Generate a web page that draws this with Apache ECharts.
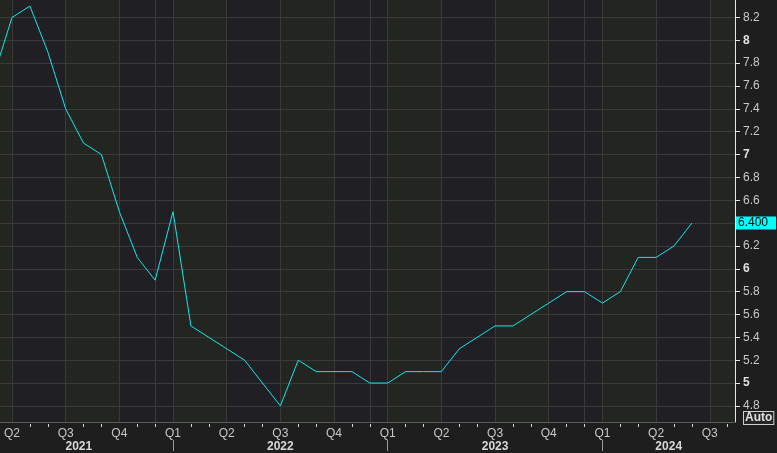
<!DOCTYPE html>
<html>
<head>
<meta charset="utf-8">
<script src="https://cdn.jsdelivr.net/npm/echarts@6/dist/echarts.min.js"></script>
<style>
html,body{margin:0;padding:0;background:#1e1e1e;}
#chart{width:777px;height:453px;}
</style>
</head>
<body>
<div id="chart"></div>
<script>
// ---- data ----
const months = [
  '2021-03','2021-04','2021-05','2021-06','2021-07','2021-08','2021-09','2021-10','2021-11','2021-12',
  '2022-01','2022-02','2022-03','2022-04','2022-05','2022-06','2022-07','2022-08','2022-09','2022-10','2022-11','2022-12',
  '2023-01','2023-02','2023-03','2023-04','2023-05','2023-06','2023-07','2023-08','2023-09','2023-10','2023-11','2023-12',
  '2024-01','2024-02','2024-03','2024-04','2024-05','2024-06'
];
const values = [
  7.7, 8.2, 8.3, 7.9, 7.4, 7.1, 7.0, 6.5, 6.1, 5.9,
  6.5, 5.5, 5.4, 5.3, 5.2, 5.0, 4.8, 5.2, 5.1, 5.1, 5.1, 5.0,
  5.0, 5.1, 5.1, 5.1, 5.3, 5.4, 5.5, 5.5, 5.6, 5.7, 5.8, 5.8,
  5.7, 5.8, 6.1, 6.1, 6.2, 6.4
];
const quarterNames = ['Q1','Q2','Q3','Q4'];
const years = ['2021','2022','2023','2024'];
const yTicks = [4.8,5.0,5.2,5.4,5.6,5.8,6.0,6.2,6.4,6.6,6.8,7.0,7.2,7.4,7.6,7.8,8.0,8.2,8.4];

// ---- helpers ----
const BASE_YEAR = 2021;
function monthIndex(s){ const p = s.split('-'); return (parseInt(p[0]) - BASE_YEAR) * 12 + (parseInt(p[1]) - 1); }
const X_MIN = 2.33, X_MAX = 43.41;
const Y_MIN = 4.659, Y_MAX = 8.353;

const quarterStarts = [];
for (let m = 0; m <= 45; m += 3) quarterStarts.push(m);
const labelQuarters = quarterStarts.filter(m => m >= X_MIN && m <= X_MAX);
const monthTicks = [];
for (let m = 0; m <= 45; m++) if (m % 3 !== 0 && m >= X_MIN && m <= X_MAX) monthTicks.push(m);
const yearStarts = years.map((y, i) => i * 12);
const yearDividers = yearStarts.filter(m => m > X_MIN && m < X_MAX);
const gridMonths = labelQuarters.concat(yearDividers.map(m => m - 1)).sort((a, b) => a - b);
// year label centers over the visible part of each year
const yearCenters = years.map((y, i) => {
  const a = Math.max(i * 12, X_MIN - 0.86), b = Math.min((i + 1) * 12, X_MAX);
  return (a + b) / 2;
});

const lineData = months.map((m, i) => [monthIndex(m), values[i]]);
const lastValue = values[values.length - 1];

const bands = [];
for (let i = 0; i < quarterStarts.length - 1; i++) {
  const a = Math.max(quarterStarts[i], X_MIN), b = Math.min(quarterStarts[i + 1], X_MAX);
  if (b <= a) continue;
  const q = (quarterStarts[i] / 3) % 4;
  bands.push([
    { xAxis: a, itemStyle: { color: (q % 2 === 0) ? '#232521' : '#201f23' } },
    { xAxis: b }
  ]);
}

const FONT = 'Liberation Sans';
const chart = echarts.init(document.getElementById('chart'), null, { renderer: 'canvas' });
chart.setOption({
  backgroundColor: '#1e1e1e',
  animation: false,
  grid: { left: 0, right: 42, top: 0, bottom: 29, containLabel: false },
  xAxis: [
    {
      type: 'value', min: X_MIN, max: X_MAX, position: 'bottom', z: 2,
      axisLine: { show: true, onZero: false, lineStyle: { color: '#5a5a5a', width: 1 } },
      axisTick: { show: false },
      axisLabel: {
        customValues: labelQuarters, margin: 6, color: '#c8c8c8', fontSize: 12, fontFamily: FONT,
        formatter: v => quarterNames[Math.round(v / 3) % 4]
      },
      splitLine: { show: false }
    },
    {
      type: 'value', min: X_MIN, max: X_MAX, position: 'bottom', z: 2,
      axisLine: { show: false, onZero: false },
      axisTick: { show: false, customValues: gridMonths },
      axisLabel: { show: false },
      splitLine: { show: true, lineStyle: { color: '#3a3a3a', width: 1 } }
    },
    {
      type: 'value', min: X_MIN, max: X_MAX, position: 'bottom', offset: 2, z: 2,
      axisLine: { show: false, onZero: false },
      axisTick: { show: true, customValues: monthTicks, length: 3, lineStyle: { color: '#d8d8d8' } },
      axisLabel: { show: false },
      splitLine: { show: false }
    },
    {
      type: 'value', min: X_MIN, max: X_MAX, position: 'bottom', offset: 18, z: 2,
      axisLine: { show: false, onZero: false },
      axisTick: { show: true, customValues: yearDividers, length: 11, lineStyle: { color: '#9a9a9a' } },
      axisLabel: {
        customValues: yearCenters, margin: 1, color: '#d8d8d8', fontSize: 12, fontWeight: 'bold', fontFamily: FONT,
        formatter: v => {
          let best = 0;
          yearCenters.forEach((c, i) => { if (Math.abs(c - v) < Math.abs(yearCenters[best] - v)) best = i; });
          return years[best];
        }
      },
      splitLine: { show: false }
    }
  ],
  yAxis: {
    type: 'value', position: 'right', min: Y_MIN, max: Y_MAX, scale: true, z: 2,
    axisLine: { show: true, onZero: false, lineStyle: { color: '#e6e6e6', width: 1 } },
    axisTick: { show: true, customValues: yTicks, length: 5, lineStyle: { color: '#e6e6e6' } },
    axisLabel: {
      customValues: yTicks, margin: 8, color: '#c8c8c8', fontSize: 12, fontFamily: FONT,
      formatter: v => {
        const r = Math.round(v * 10) / 10;
        return Number.isInteger(r) ? '{b|' + r + '}' : String(r);
      },
      rich: { b: { fontWeight: 'bold', color: '#e0e0e0', fontSize: 12, fontFamily: FONT } }
    },
    splitLine: { show: true, lineStyle: { color: '#3a3a3a', width: 1 } }
  },
  series: [
    {
      type: 'line', data: [], z: 0, silent: true,
      markArea: { silent: true, z: 0, data: bands }
    },
    {
      type: 'line', data: lineData, showSymbol: false, symbol: 'none', z: 3, clip: true,
      lineStyle: { color: '#10e8f0', width: 1 },
      markLine: {
        silent: true, symbol: ['none', 'none'], z: 10,
        lineStyle: { color: 'rgba(0,0,0,0)', width: 0, type: 'solid' },
        data: [{ yAxis: lastValue }],
        label: {
          show: true, position: 'end', distance: 1, formatter: lastValue.toFixed(3),
          backgroundColor: '#00ffff', color: '#000000', fontSize: 12, fontFamily: FONT,
          padding: [1, 8, 0, 2], lineHeight: 12
        }
      }
    }
  ],
  graphic: [
    {
      type: 'text', left: 743, top: 411, silent: true,
      style: {
        text: 'Auto', fill: '#e0e0e0', font: 'bold 12px ' + FONT,
        backgroundColor: '#262626', borderColor: '#cfcfcf', borderWidth: 1, padding: [0, 1, 0, 1]
      }
    }
  ]
});
</script>
</body>
</html>
